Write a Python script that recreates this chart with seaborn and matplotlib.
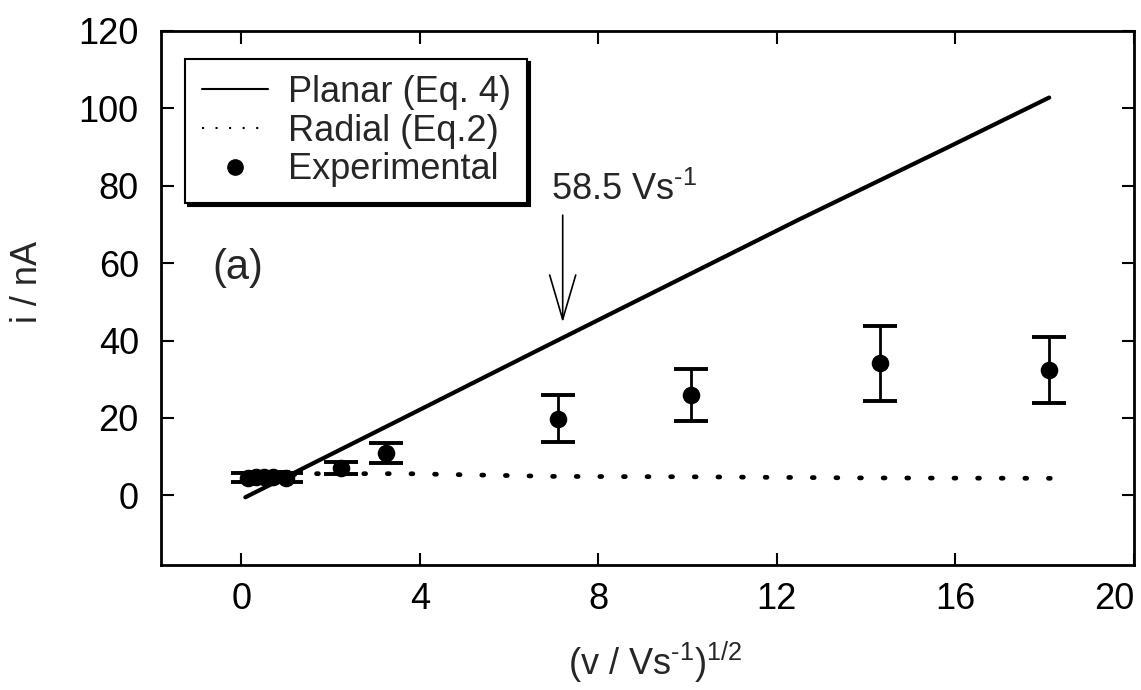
import matplotlib
matplotlib.use("Agg")
import matplotlib.pyplot as plt
import seaborn as sns
import pandas as pd
from matplotlib.lines import Line2D

# ---- data ----
planar_x = [0.09, 3.53, 6.73, 12.48, 15.84, 18.1]
planar_y = [-0.5, 19.4, 38.0, 71.2, 90.0, 102.8]
radial_x = [0.1, 1.5, 3.7, 7.0, 10.0, 14.0, 18.2]
radial_y = [4.6, 5.6, 5.6, 4.9, 4.8, 4.5, 4.4]
exp_x = [0.16, 0.32, 0.5, 0.71, 1.0, 2.24, 3.24, 7.1, 10.07, 14.3, 18.1]
exp_y = [4.6, 4.7, 4.8, 4.8, 4.6, 7.0, 10.9, 19.8, 25.9, 34.1, 32.3]
exp_err = [1.2, 1.2, 1.2, 1.2, 1.2, 1.5, 2.6, 6.1, 6.8, 9.6, 8.5]
x_ticks = [0, 4, 8, 12, 16, 20]
y_ticks = [0, 20, 40, 60, 80, 100, 120]
legend_labels = ["Planar (Eq. 4)", "Radial (Eq.2)", "Experimental"]
arrow_x, arrow_y0, arrow_y1 = 7.2, 72.4, 44.7

sns.set_theme(style="ticks")
plt.rcParams["font.family"] = ["Liberation Sans", "DejaVu Sans"]
plt.rcParams["mathtext.fontset"] = "custom"
plt.rcParams["mathtext.rm"] = "Liberation Sans"
plt.rcParams["mathtext.it"] = "Liberation Sans"
plt.rcParams["font.size"] = 26

fig = plt.figure(figsize=(11.41, 6.90), dpi=100)
ax = fig.add_axes([161 / 1141, 1 - 565 / 690, (1134 - 161) / 1141, (565 - 31) / 690])

df_p = pd.DataFrame({"x": planar_x, "y": planar_y})
df_r = pd.DataFrame({"x": radial_x, "y": radial_y})
df_e = pd.DataFrame({"x": exp_x, "y": exp_y, "err": exp_err})

sns.lineplot(data=df_p, x="x", y="y", ax=ax, color="black", lw=3.0,
             sort=False, estimator=None)
sns.lineplot(data=df_r, x="x", y="y", ax=ax, color="black", lw=3.4,
             sort=False, estimator=None)
line_r = ax.lines[-1]
line_r.set_dashes((0.4, 4.6))
line_r.set_dash_capstyle("round")

ax.errorbar(df_e["x"], df_e["y"], yerr=df_e["err"], fmt="none",
            ecolor="black", elinewidth=2.0, capsize=12, capthick=2.8, zorder=3)
sns.scatterplot(data=df_e, x="x", y="y", ax=ax, color="black", s=160,
                edgecolor="black", linewidth=0, zorder=4)

ax.set_xlim(-1.8, 20)
ax.set_ylim(-18, 120)
ax.set_xticks(x_ticks)
ax.set_yticks(y_ticks)
ax.tick_params(direction="in", length=9, width=1.5, top=True, right=True,
               labelsize=26, colors="black")
ax.tick_params(axis="x", pad=12)
ax.tick_params(axis="y", pad=16)
for s in ax.spines.values():
    s.set_linewidth(2.0)
    s.set_color("black")
labs = ax.get_xticklabels()
labs[-1].set_horizontalalignment("right")

ax.set_xlabel("(v / Vs$^{\u20101}$)$^{1/2}$", fontsize=26)
ax.set_ylabel("i / nA", fontsize=26)
ax.xaxis.set_label_coords(0.508, -0.14)
ax.yaxis.label.set_verticalalignment("center")
ax.yaxis.set_label_coords(-0.137, 0.53)

ax.annotate("", xy=(arrow_x, arrow_y1), xytext=(arrow_x, arrow_y0),
            arrowprops=dict(arrowstyle="->,head_length=1.6,head_width=0.47",
                            lw=1.2, color="black", shrinkA=0, shrinkB=0,
                            mutation_scale=20))
ax.text(6.93, 76.3, "58.5 Vs$^{\u20101}$", fontsize=26, ha="left", va="baseline")
ax.text(-0.65, 58.7, "(a)", fontsize=30, ha="left", va="center")

h1 = Line2D([], [], color="black", lw=1.5)
h2 = Line2D([], [], color="black", lw=1.5, dashes=(1, 5.5))
h3 = Line2D([], [], color="black", marker="o", markersize=11, lw=0)
leg = ax.legend([h1, h2, h3], legend_labels, loc="upper left",
                bbox_to_anchor=(0.025, 0.948), borderaxespad=0, fontsize=26,
                frameon=True, fancybox=False, framealpha=1, edgecolor="black",
                shadow={"color": "black", "alpha": 1}, handlelength=1.85,
                handletextpad=0.55, labelspacing=0.1, borderpad=0.45)
leg.get_frame().set_linewidth(1.5)

fig.savefig("out.png", dpi=100)
